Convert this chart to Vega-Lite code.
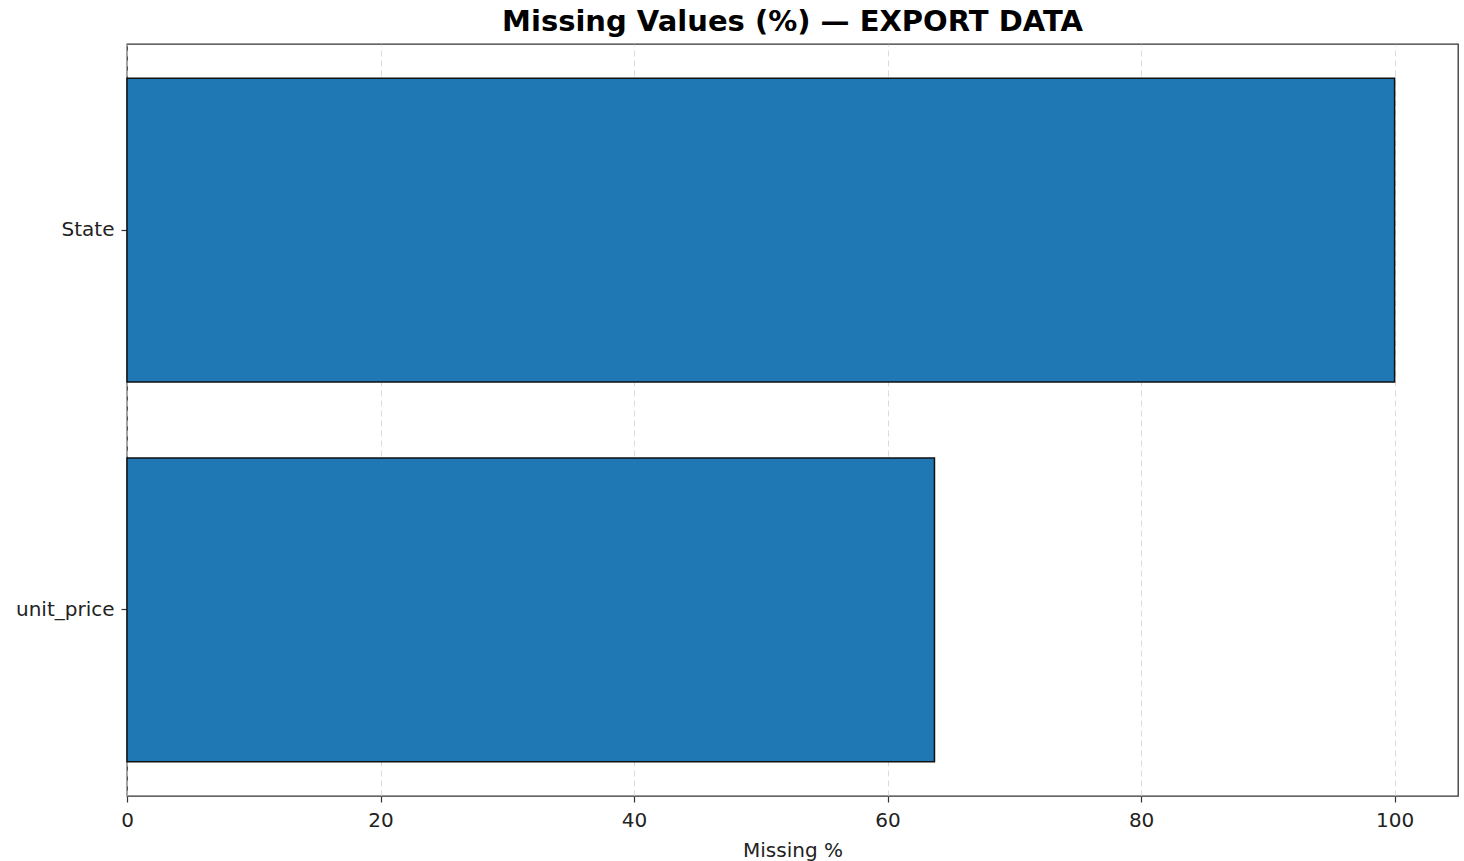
{
  "$schema": "https://vega.github.io/schema/vega-lite/v6.json",
  "width": 1331,
  "height": 752,
  "autosize": {"type": "none"},
  "padding": {"left": 127, "top": 44, "right": 6, "bottom": 65},
  "background": "white",
  "title": {
    "text": "Missing Values (%) — EXPORT DATA",
    "font": "DejaVu Sans",
    "fontSize": 29,
    "fontWeight": "bold",
    "color": "#000000",
    "anchor": "middle",
    "offset": 7
  },
  "config": {
    "view": {"stroke": "#333333", "strokeWidth": 1.3},
    "axis": {
      "labelFont": "DejaVu Sans",
      "titleFont": "DejaVu Sans",
      "labelFontSize": 20,
      "titleFontSize": 20,
      "labelColor": "#222222",
      "titleColor": "#222222",
      "titleFontWeight": "normal",
      "domainColor": "#333333",
      "tickColor": "#333333",
      "tickSize": 6,
      "tickWidth": 1.2,
      "labelFlush": false
    }
  },
  "data": {
    "values": [
      {"column": "State", "missing": 100.0},
      {"column": "unit_price", "missing": 63.7}
    ]
  },
  "mark": {"type": "bar", "color": "#1f77b4", "stroke": "#111111", "strokeWidth": 1.5},
  "encoding": {
    "y": {
      "field": "column",
      "type": "nominal",
      "sort": ["State", "unit_price"],
      "scale": {"paddingInner": 0.2, "paddingOuter": 0.09},
      "axis": {"title": null, "labelPadding": 7, "grid": false, "domain": false}
    },
    "x": {
      "field": "missing",
      "type": "quantitative",
      "scale": {"domain": [0, 105], "nice": false, "zero": true},
      "axis": {
        "title": "Missing %",
        "values": [0, 20, 40, 60, 80, 100],
        "grid": true,
        "gridDash": [6, 4],
        "gridColor": "#cccccc",
        "gridOpacity": 0.7,
        "labelPadding": 8,
        "titlePadding": 10,
        "domain": false
      }
    }
  }
}
